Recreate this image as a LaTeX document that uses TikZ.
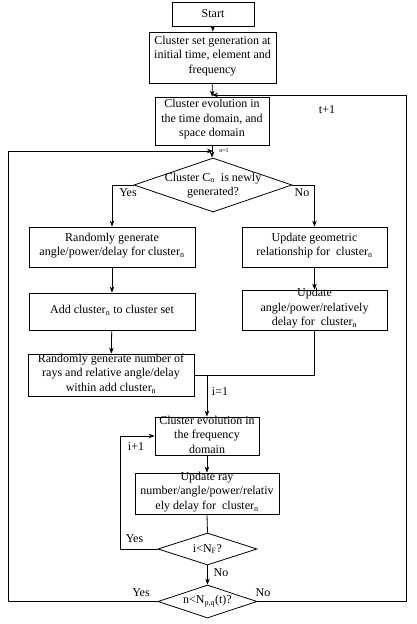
\documentclass[tikz,border=0pt]{standalone}
\usepackage{fontspec}
\setmainfont{Liberation Serif}
\usetikzlibrary{arrows.meta,shapes.geometric}
\newcommand{\bxt}[2]{\parbox[c][0pt][c]{#1}{\centering #2}}
\begin{document}
\begin{tikzpicture}[x=1pt,y=-1pt,
  font=\fontsize{12}{14.5}\selectfont,
  box/.style={draw, line width=0.8pt, inner sep=0pt},
  dia/.style={draw, line width=0.8pt, diamond, inner sep=0pt},
  lbl/.style={inner sep=0pt},
  line/.style={draw, line width=0.8pt},
  arr/.style={line, -{Stealth[length=6pt,width=4.5pt]}}]
\useasboundingbox (0,0) rectangle (416,624);
% boxes
\node[box, minimum width=82, minimum height=24] (start) at (213,14) {Start};
\node[box, minimum width=127, minimum height=51] (gen) at (212.5,57.5)
  {\bxt{125pt}{Cluster set generation at\\initial time, element and\\frequency}};
\node[box, minimum width=114, minimum height=48] (tevo) at (212,121)
  {\bxt{112pt}{Cluster evolution in\\the time domain, and\\space domain}};
\node[dia, minimum width=158, minimum height=54] (d1) at (213,185) {};
\node[lbl, align=center] (d1t) at (213,185.5) {Cluster C\textsubscript{n}\ \ is newly\\generated?};
\node[box, minimum width=166, minimum height=40] (rand) at (112,247)
  {\bxt{164pt}{Randomly generate\\angle/power/delay for cluster\textsubscript{n}}};
\node[box, minimum width=145, minimum height=40] (upgeo) at (314.5,247)
  {\bxt{143pt}{Update geometric\\relationship for\ \ cluster\textsubscript{n}}};
\node[box, minimum width=166, minimum height=37] (add) at (112,311.5)
  {\bxt{164pt}{Add cluster\textsubscript{n} to cluster set}};
\node[box, minimum width=145, minimum height=40] (upang) at (314.5,310)
  {\bxt{143pt}{Update\\angle/power/relatively\\delay for\ \ cluster\textsubscript{n}}};
\node[box, minimum width=166, minimum height=42] (rays) at (111,375)
  {\bxt{164pt}{Randomly generate number of\\rays and relative angle/delay\\within add cluster\textsubscript{n}}};
\node[box, minimum width=104, minimum height=38] (fevo) at (207,436)
  {\bxt{102pt}{Cluster evolution in\\the frequency\\domain}};
\node[box, minimum width=144, minimum height=41] (upray) at (207,493.5)
  {\bxt{143pt}{Update ray\\number/angle/power/relativ\\ely delay for\ \ cluster\textsubscript{n}}};
\node[dia, minimum width=99, minimum height=32] (d2) at (207.5,549) {};
\node[lbl] (d2t) at (207.5,549) {i<N\textsubscript{F}?};
\node[dia, minimum width=99, minimum height=33] (d3) at (207.5,601.5) {};
\node[lbl] (d3t) at (207.5,601.5) {n<N\textsubscript{p,q}(t)?};
% labels
\node[lbl] (tp1) at (327,110) {t+1};
\node[lbl, font=\fontsize{6}{7}\selectfont] (n1l) at (224,150.5) {n=1};
\node[lbl] (yes1) at (128,193) {Yes};
\node[lbl] (no1) at (302,193) {No};
\node[lbl] (i1) at (220,392) {i=1};
\node[lbl] (ip1) at (136,447) {i+1};
\node[lbl] (yes2) at (134.5,539) {Yes};
\node[lbl] (no2) at (221,573) {No};
\node[lbl] (yes3) at (141,593) {Yes};
\node[lbl] (no3) at (263,593) {No};
% coordinates
\coordinate (rtop) at (406.7,95);
\coordinate (rbot) at (406.7,601.5);
\coordinate (nin) at (213,151);
\coordinate (ltop) at (8.3,151);
\coordinate (lbot) at (8.3,601.5);
\coordinate (fjoin) at (fevo.north |- rays.east);
\coordinate (yl) at (120,549);
\coordinate (tjoin) at (212,95);
% connectors
\draw[arr] (start) -- (gen);
\draw[arr] (gen) -- (tevo);
\draw[arr] (tevo.south) -- (tevo.south |- d1.north);
\draw[arr] (d1.west) -| (rand.north);
\draw[arr] (d1.east) -| (upgeo.north);
\draw[arr] (rand) -- (add);
\draw[arr] (upgeo) -- (upang);
\draw[arr] (add) -- (rays);
\draw[line] (upang.south) |- (rays.east);
\draw[arr] (fjoin) -- (fevo.north);
\draw[arr] (fevo) -- (upray);
\draw[line] (upray.south) -- (d2.north);
\draw[arr] (d2.west) -- (yl) |- (fevo.west);
\draw[arr] (d2) -- (d3);
\draw[arr] (d3.west) -- (lbot) -- (ltop) -- (nin);
\draw[arr] (d3.east) -- (rbot) -- (rtop) -- (tjoin);
\end{tikzpicture}
\end{document}
